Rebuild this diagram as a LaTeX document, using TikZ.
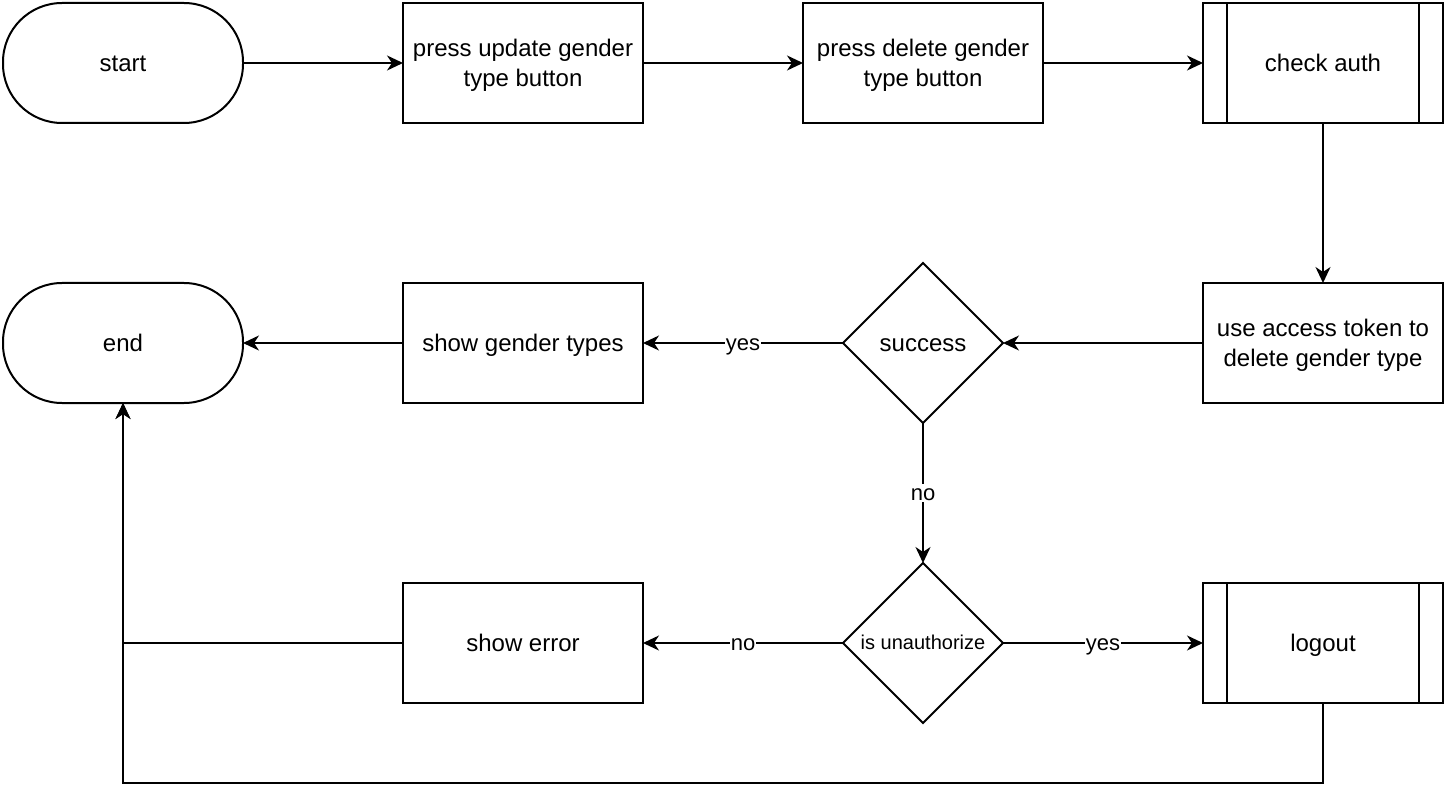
\documentclass[tikz,border=0pt]{standalone}
\usepackage{fontspec}
\setmainfont{Liberation Sans}
\usetikzlibrary{shapes.geometric,arrows.meta}
\begin{document}
\begin{tikzpicture}[x=1pt,y=-1pt,
  base/.style={draw=black,line width=2pt,inner sep=0pt,outer sep=0pt,align=center,
    font=\fontsize{24}{30}\selectfont,text=black,text depth=1pt},
  one/.style={text height=17.2pt},
  box/.style={base,rectangle,minimum width=240pt,minimum height=120pt},
  term/.style={box,one,rounded corners=59pt},
  proc/.style={box,one,path picture={
    \draw[line width=2pt] ([xshift=24pt]path picture bounding box.north west) -- ([xshift=24pt]path picture bounding box.south west);
    \draw[line width=2pt] ([xshift=-24pt]path picture bounding box.north east) -- ([xshift=-24pt]path picture bounding box.south east);}},
  dec/.style={base,diamond,aspect=1,minimum width=160pt,minimum height=160pt},
  conn/.style={line width=2pt,-{Stealth[length=16pt,width=15pt,inset=5pt]}},
  lbl/.style={fill=white,inner sep=1pt,font=\fontsize{22}{26}\selectfont,text=black,text height=15.8pt,text depth=0pt}
]
\useasboundingbox[fill=white] (0,0) rectangle (1446,802);
\node[term] (start) at (123,63) {start};
\node[box] (upd) at (523,63) {press update gender\\type button};
\node[box] (del) at (923,63) {press delete gender\\type button};
\node[proc] (auth) at (1323,63) {check auth};
\node[box] (use) at (1323,343) {use access token to\\delete gender type};
\node[dec,one] (succ) at (923,343) {success};
\node[box,one] (show) at (523,343) {show gender types};
\node[term] (end) at (123,343) {end};
\node[dec,font=\fontsize{20}{24}\selectfont,text height=14.3pt] (unauth) at (923,643) {is unauthorize};
\node[box,one] (err) at (523,643) {show error};
\node[proc] (logout) at (1323,643) {logout};
\coordinate (errc) at (123,643);
\coordinate (lb1) at (1323,783);
\coordinate (lb2) at (123,783);

\draw[conn] (start) -- (upd);
\draw[conn] (upd) -- (del);
\draw[conn] (del) -- (auth);
\draw[conn] (auth) -- (use);
\draw[conn] (use) -- (succ);
\draw[conn] (succ) -- node[lbl]{yes} (show);
\draw[conn] (show) -- (end);
\draw[conn] (succ) -- node[lbl]{no} (unauth);
\draw[conn] (unauth) -- node[lbl]{no} (err);
\draw[conn] (unauth) -- node[lbl]{yes} (logout);
\draw[conn] (err.west) -- (errc) -- (end.south);
\draw[conn] (logout.south) -- (lb1) -- (lb2) -- (end.south);
\end{tikzpicture}
\end{document}
